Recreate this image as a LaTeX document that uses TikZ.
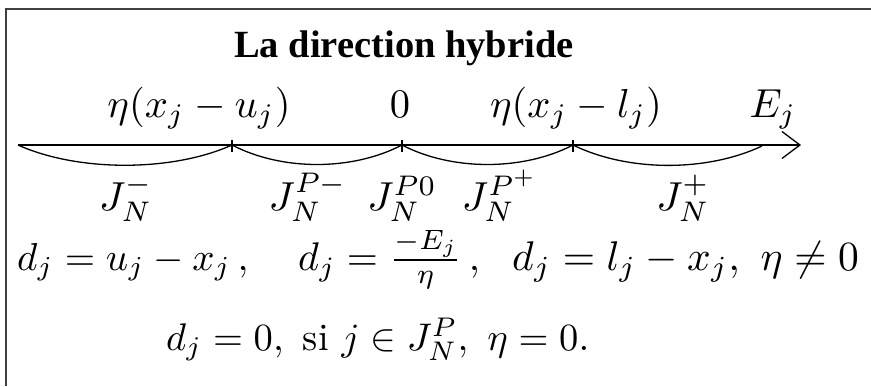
\documentclass[tikz,border=0pt]{standalone}
\usepackage{fontspec}
\newfontfamily\titlefont{Liberation Serif}
\usetikzlibrary{arrows.meta}
\newcommand{\labsz}[1]{\scalebox{4.05}{$#1$}}
\newcommand{\eqsz}[2]{\scalebox{#1}{$#2$}}
\tikzset{
  frameline/.style={line width=2pt, draw=black!75},
  axisline/.style={line width=1.3pt, draw=black},
  brace/.style={line width=1.3pt, draw=black},
  tickmark/.style={line width=1.3pt, draw=black},
  lab/.style={anchor=base, inner sep=0pt},
  eqn/.style={anchor=base west, inner sep=0pt},
}
\begin{document}
\begin{tikzpicture}[x=1pt, y=-1pt]
\useasboundingbox (0,0) rectangle (871,386);
% frame (top and left only)
\coordinate (ftr) at (871,9);
\coordinate (ftl) at (6,9);
\coordinate (fbl) at (6,386);
\draw[frameline] (ftr) -- (ftl) -- (fbl);
% title
\node[anchor=base, inner sep=0pt, font=\titlefont\bfseries\fontsize{38.5}{42}\selectfont] (title) at (404,57) {La direction hybride};
% top labels
\node[lab] (l1) at (199,117) {\labsz{\eta(x_j-u_j)}};
\node[lab] (l2) at (400,117) {\labsz{0}};
\node[lab] (l3) at (576,117) {\labsz{\eta(x_j-l_j)}};
\node[lab] (l4) at (773,117) {\labsz{E_j}};
% axis
\coordinate (a0) at (18,145);
\coordinate (t1) at (232,145);
\coordinate (t2) at (402,145);
\coordinate (t3) at (573,145);
\coordinate (c4) at (762,146);
\coordinate (aend) at (801,145);
\draw[axisline, -{Straight Barb[length=18pt, width=27pt, line width=1.3pt]}] (a0) -- (aend);
\foreach \t in {t1,t2,t3}
  \draw[tickmark] ([yshift=5pt]\t) -- ([yshift=-7pt]\t);
% braces under the axis
\draw[brace] (a0) .. controls ([xshift=60pt,yshift=-27pt]a0) and ([xshift=-60pt,yshift=-27pt]t1) .. (t1);
\draw[brace] (t1) .. controls ([xshift=50pt,yshift=-26pt]t1) and ([xshift=-50pt,yshift=-26pt]t2) .. (t2);
\draw[brace] (t2) .. controls ([xshift=50pt,yshift=-26pt]t2) and ([xshift=-50pt,yshift=-26pt]t3) .. (t3);
\draw[brace] (t3) .. controls ([xshift=55pt,yshift=-27pt]t3) and ([xshift=-55pt,yshift=-26pt]c4) .. (c4);
% set labels
\node[lab] (j1) at (126,210) {\labsz{J_N^-}};
\node[lab] (j2) at (308,210) {\labsz{J_N^{P-}}};
\node[lab] (j3) at (402,210) {\labsz{J_N^{P0}}};
\node[lab] (j4) at (500,210) {\labsz{J_N^{P^+}}};
\node[lab] (j5) at (683,210) {\labsz{J_N^+}};
% formulas
\node[eqn] (e1) at (17,270) {\eqsz{3.9}{d_j=u_j-x_j\,,}};
\node[eqn] (e2) at (298,270) {\eqsz{4.0}{d_j=\frac{-E_j}{\eta}\,,}};
\node[eqn] (e3) at (512,270) {\eqsz{4.15}{d_j=l_j-x_j,\ \eta\neq 0}};
\node[eqn] (e4) at (166,350) {\eqsz{3.85}{d_j=0,\ \mathrm{si}\ j\in J_N^P,\ \eta=0.}};
\end{tikzpicture}
\end{document}
